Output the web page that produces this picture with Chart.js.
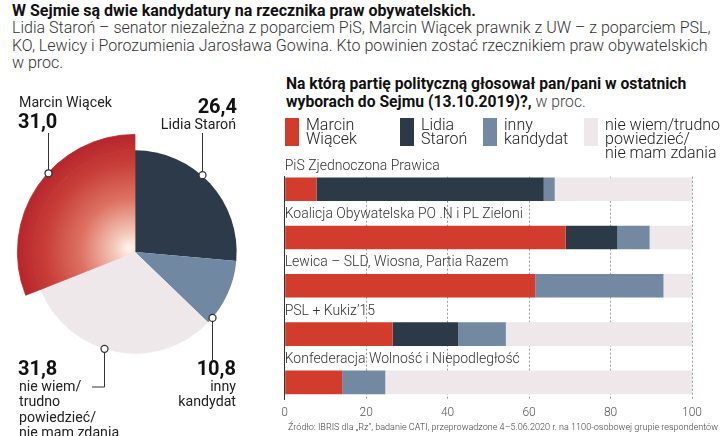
<!DOCTYPE html>
<html><head><meta charset="utf-8">
<script src="https://cdn.jsdelivr.net/npm/chart.js@4.4.1/dist/chart.umd.min.js"></script>
<style>
body{margin:0;background:#fff;}
#wrap{position:relative;width:720px;height:436px;overflow:hidden;background:#fff;font-family:Roboto,sans-serif;color:#222;}
.t{position:absolute;white-space:nowrap;}
canvas{position:absolute;}
.r{text-align:right;}
.b{font-weight:bold;}
.l{font-weight:300;}
</style></head><body>
<div id="wrap">
<div class="t b" style="left:12px;top:2px;font-size:16px;line-height:18px;color:#111">W Sejmie są dwie kandydatury na rzecznika praw obywatelskich.</div>
<div class="t l" style="left:12px;top:19px;font-size:16px;line-height:17.5px;color:#333">Lidia Staroń – senator niezależna z poparciem PiS, Marcin Wiącek prawnik z UW – z poparciem PSL,<br>KO, Lewicy i Porozumienia Jarosława Gowina. Kto powinien zostać rzecznikiem praw obywatelskich<br>w proc.</div>

<canvas id="pie" width="280" height="356" style="left:0;top:80px"></canvas>
<canvas id="bar" width="450" height="286" style="left:270px;top:150px"></canvas>

<div class="t" style="left:19px;top:94px;font-size:14.2px;line-height:16px">Marcin Wiącek</div>
<div class="t b" style="left:18px;top:109px;font-size:20px;line-height:24px;color:#111">31,0</div>
<div class="t b r" style="right:483px;top:94px;font-size:20px;line-height:24px;color:#111">26,4</div>
<div class="t r" style="right:484px;top:116px;font-size:14.2px;line-height:16px">Lidia Staroń</div>
<div class="t b" style="left:18px;top:356px;font-size:20px;line-height:24px;color:#111">31,8</div>
<div class="t" style="left:19px;top:379px;font-size:14.2px;line-height:15.4px">nie wiem/<br>trudno<br>powiedzieć/<br>nie mam zdania</div>
<div class="t b r" style="right:484px;top:356px;font-size:20px;line-height:24px;color:#111">10,8</div>
<div class="t r" style="right:484px;top:379px;font-size:14.2px;line-height:15.4px">inny<br>kandydat</div>

<div class="t" style="left:286px;top:75px;font-size:15.7px;line-height:18px;color:#111"><b>Na którą partię polityczną głosował pan/pani w ostatnich</b><br><b>wyborach do Sejmu (13.10.2019)?,</b> <span class="l" style="color:#444">w proc.</span></div>
<div id="legend"></div>
<div class="t r l" style="right:2px;top:421px;font-size:9.05px;line-height:13px;color:#444">Źródło: IBRIS dla „Rz”, badanie CATI, przeprowadzone 4–5.06.2020 r. na 1100-osobowej grupie respondentów</div>
</div>
<script>
// ---- data ----
const pieLabels = ['Lidia Staroń', 'inny kandydat', 'nie wiem/trudno powiedzieć/nie mam zdania', 'Marcin Wiącek'];
const pieValues = [26.4, 10.8, 31.8, 31.0];

const categories = ['PiS Zjednoczona Prawica', 'Koalicja Obywatelska PO .N i PL Zieloni', 'Lewica – SLD, Wiosna, Partia Razem', 'PSL + Kukiz’15', 'Konfederacja Wolność i Niepodległość'];
const wiacek  = [7.8, 69.0, 61.5, 26.5, 14.1];
const staron  = [55.8, 12.7, 0, 16.1, 0];
const inny    = [2.7, 7.9, 31.5, 11.7, 10.6];
const nieWiem = [33.7, 10.4, 7.0, 45.7, 75.3];
const xTicks = [0, 20, 40, 60, 80, 100];
const legendNames = [['Marcin','Wiącek'], ['Lidia','Staroń'], ['inny','kandydat'], ['nie wiem/trudno','powiedzieć/','nie mam zdania']];

// ---- styles ----
const C = {red:'#d23c2c', dark:'#2c3a48', blue:'#7389a2', grey:'#eee8ea'};
const pieColors = ['#2c3a4a', '#7088a2', '#eee8ea', null];
const dotPos = [0.43, 0.91, 0.557, 0.57];
const leaderEndY = [133, 360, 387, 133];
const leaderEndX = [null, null, 92, null];
const legendX = [285, 400, 483, 584];

Chart.defaults.font.family = 'Roboto, sans-serif';

// legend
const lg = document.getElementById('legend');
const barColors = [C.red, C.dark, C.blue, C.grey];
legendNames.forEach((n, i) => {
  const box = document.createElement('div');
  box.style.cssText = `position:absolute;left:${legendX[i]}px;top:118px;width:14px;height:28px;background:${barColors[i]}`;
  lg.appendChild(box);
  const tx = document.createElement('div');
  tx.className = 't l';
  tx.style.cssText = `left:${legendX[i]+21}px;top:118px;font-size:16px;line-height:14px;color:#222`;
  tx.innerHTML = n.join('<br>');
  lg.appendChild(tx);
});

function redGrad(chart) {
  const a = chart.chartArea;
  if (!a) return '#c33';
  const cx = (a.left + a.right) / 2, cy = (a.top + a.bottom) / 2;
  const g = chart.ctx.createRadialGradient(cx - 6, cy - 4, 0, cx, cy, 122);
  g.addColorStop(0, '#fff6f2');
  g.addColorStop(0.12, '#f4cbbd');
  g.addColorStop(0.42, '#dd7262');
  g.addColorStop(0.72, '#c83e38');
  g.addColorStop(1, '#b3222a');
  return g;
}

const leaderPlugin = {
  id: 'leaders',
  afterDraw(chart) {
    const ctx = chart.ctx;
    const top = 80;
    ctx.save();
    pieValues.forEach((v, i) => {
      const ds = pieColors[i] === null ? 0 : 1;
      const arc = chart.getDatasetMeta(ds).data[i];
      const p = arc.getProps(['x', 'y', 'startAngle', 'endAngle', 'outerRadius'], true);
      const a = p.startAngle + dotPos[i] * (p.endAngle - p.startAngle);
      const x = Math.round(p.x + p.outerRadius * Math.cos(a)) + 0.5, y = p.y + p.outerRadius * Math.sin(a);
      ctx.strokeStyle = '#333'; ctx.lineWidth = 1;
      ctx.beginPath();
      ctx.moveTo(x, y);
      ctx.lineTo(x, leaderEndY[i] - top);
      if (leaderEndX[i] !== null) ctx.lineTo(leaderEndX[i], leaderEndY[i] - top);
      ctx.stroke();
      ctx.beginPath();
      ctx.arc(x, y, 3.5, 0, Math.PI * 2);
      ctx.fillStyle = '#fff'; ctx.fill();
      ctx.lineWidth = 1.3; ctx.stroke();
    });
    ctx.restore();
  }
};

const isRed = c => pieColors[c.dataIndex] === null;
new Chart(document.getElementById('pie'), {
  type: 'pie',
  data: {
    labels: pieLabels,
    datasets: [
      {data: pieValues, weight: 16, hoverBorderWidth: 0, hoverOffset: 0, offset: 0,
       borderWidth: c => isRed(c) ? 0.8 : 0, borderColor: c => isRed(c) ? redGrad(c.chart) : 'rgba(0,0,0,0)',
       backgroundColor: c => isRed(c) ? redGrad(c.chart) : 'rgba(0,0,0,0)'},
      {data: pieValues, weight: 102, hoverBorderWidth: 0, hoverOffset: 0, offset: 0,
       borderWidth: c => isRed(c) ? 0.8 : 0, borderColor: c => isRed(c) ? redGrad(c.chart) : 'rgba(0,0,0,0)',
       backgroundColor: c => isRed(c) ? redGrad(c.chart) : pieColors[c.dataIndex]}
    ]
  },
  options: {
    responsive: false, animation: false, events: [],
    layout: {padding: {left: 17, top: 54, right: 27, bottom: 66}},
    plugins: {legend: {display: false}, tooltip: {enabled: false}}
  },
  plugins: [leaderPlugin]
});

new Chart(document.getElementById('bar'), {
  type: 'bar',
  data: {
    labels: categories.map((c, i) => i),
    datasets: [
      {label: legendNames[0].join(' '), data: wiacek, backgroundColor: C.red},
      {label: legendNames[1].join(' '), data: staron, backgroundColor: C.dark},
      {label: legendNames[2].join(' '), data: inny, backgroundColor: C.blue},
      {label: legendNames[3].join(' '), data: nieWiem, backgroundColor: C.grey}
    ]
  },
  options: {
    indexAxis: 'y', responsive: false, animation: false, events: [],
    layout: {padding: {left: 14.7, right: 28, top: 26.7, bottom: 9.9}},
    datasets: {bar: {barPercentage: 0.49, categoryPercentage: 1, borderWidth: 0}},
    plugins: {legend: {display: false}, tooltip: {enabled: false}},
    scales: {
      x: {
        type: 'linear', stacked: true, min: 0, max: 100,
        afterBuildTicks: s => { s.ticks = xTicks.map(v => ({value: v})); },
        ticks: {color: '#555', font: {size: 12, weight: 300}, padding: 6},
        grid: {color: c => (c.tick && c.tick.value === 0) ? 'rgba(0,0,0,0)' : '#9b9b9b', drawTicks: false, lineWidth: 1},
        border: {display: false, dash: [2, 2]}
      },
      y: {
        type: 'linear', stacked: true, reverse: true, offset: false, min: -0.26, max: 4.36,
        afterBuildTicks: s => { s.ticks = categories.map((c, i) => ({value: i})); },
        ticks: {mirror: true, padding: 0, labelOffset: -23, color: '#333', font: {size: 14, weight: 300}, callback: v => categories[v]},
        grid: {display: false, drawTicks: false},
        border: {display: true, color: '#333', width: 1}
      }
    }
  }
});
</script>
</body></html>
